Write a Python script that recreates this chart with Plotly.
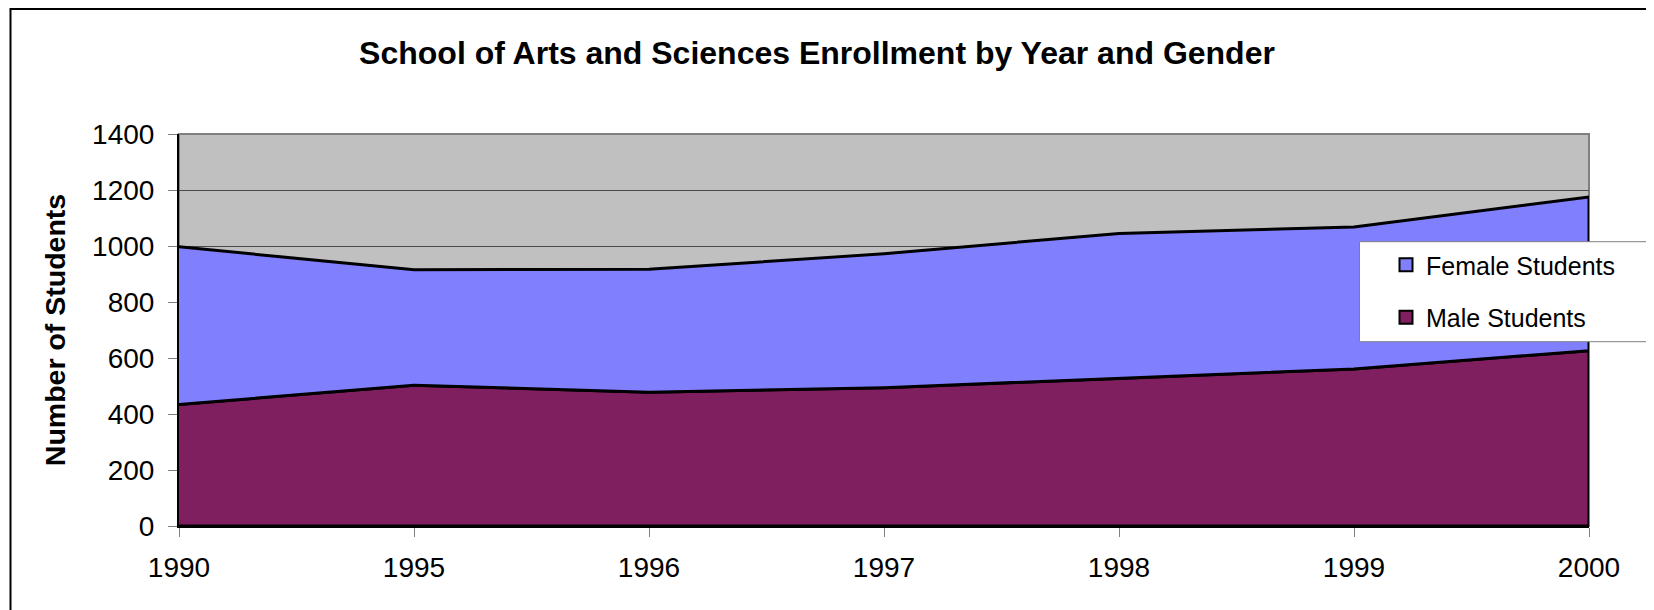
import numpy as np
import plotly.graph_objects as go

# ---- data ----
years = ['1990', '1995', '1996', '1997', '1998', '1999', '2000']
male_students = [434, 503, 478, 494, 527, 561, 626]
female_students = [563, 412, 439, 478, 518, 507, 549]
y_ticks = [0, 200, 400, 600, 800, 1000, 1200, 1400]

title_text = 'School of Arts and Sciences Enrollment by Year and Gender'
y_title = 'Number of Students'
female_name = 'Female Students'
male_name = 'Male Students'

# ---- layout geometry (figure pixel coords) ----
W, H = 1654, 610
L, R, T, B = 171, 73, 126, 92
PW, PH = W - L - R, H - T - B

def px(x):
    return (x - L) / PW

def py(y):
    return (H - B - y) / PH

FONT = 'Arial, Liberation Sans, sans-serif'
MALE_C = '#7F1F5F'
FEMALE_C = '#8080FF'

male = np.array(male_students)
total = male + np.array(female_students)
xs_poly = years + years[::-1]

fig = go.Figure()
fig.add_trace(go.Scatter(
    x=xs_poly, y=list(male) + [0] * len(years),
    fill='toself', fillcolor=MALE_C, mode='lines',
    line=dict(color='black', width=3), showlegend=False, hoverinfo='skip'))
fig.add_trace(go.Scatter(
    x=xs_poly, y=list(total) + list(male[::-1]),
    fill='toself', fillcolor=FEMALE_C, mode='lines',
    line=dict(color='black', width=3), showlegend=False, hoverinfo='skip'))

# legend entries (square swatches)
fig.add_trace(go.Scatter(x=[None], y=[None], mode='markers', name=female_name,
                         legendgroup='f',
                         marker=dict(symbol='square', size=13, color=FEMALE_C,
                                     line=dict(color='black', width=2))))
fig.add_trace(go.Scatter(x=[None], y=[None], mode='markers', name=male_name,
                         legendgroup='m',
                         marker=dict(symbol='square', size=13, color=MALE_C,
                                     line=dict(color='black', width=2))))

shapes = [
    # plot area border (gray)
    dict(type='rect', xref='paper', yref='paper', x0=0, x1=1, y0=0, y1=1,
         line=dict(color='#808080', width=2), fillcolor='rgba(0,0,0,0)', layer='below'),
    # outer chart border
    dict(type='rect', xref='paper', yref='paper', x0=px(2.5), x1=px(1720),
         y0=py(700), y1=py(1), line=dict(color='black', width=2),
         fillcolor='rgba(0,0,0,0)', layer='above'),
    # legend box
    dict(type='rect', xref='paper', yref='paper', x0=px(1351.5), x1=px(1720),
         y0=py(333.7), y1=py(233.7), line=dict(color='#808080', width=1),
         fillcolor='white', layer='above'),
]

fig.update_layout(
    width=W, height=H,
    margin=dict(l=L, r=R, t=T, b=B, autoexpand=False),
    paper_bgcolor='white', plot_bgcolor='#C0C0C0',
    font=dict(family=FONT, color='black', size=28),
    title=dict(text='<b>' + title_text + '</b>', x=809 / W, y=1 - 45 / H,
               xanchor='center', yanchor='middle',
               font=dict(family=FONT, size=32, color='black')),
    shapes=shapes,
    showlegend=True,
    legend=dict(x=px(1378), y=py(234), xanchor='left', yanchor='top',
                bgcolor='rgba(0,0,0,0)', borderwidth=0,
                font=dict(family=FONT, size=25, color='black'),
                traceorder='grouped', tracegroupgap=17, itemwidth=30),
    xaxis=dict(type='category', categoryorder='array', categoryarray=years,
               range=[0, len(years) - 1], showgrid=False, zeroline=False,
               showline=True, linecolor='black', linewidth=2,
               ticks='outside', ticklen=9, tickcolor='#808080', tickwidth=1,
               tickfont=dict(family=FONT, size=28), ticklabelstandoff=6),
    yaxis=dict(range=[0, 1400], tickvals=y_ticks, showgrid=True,
               gridcolor='#4a4a4a', gridwidth=1, zeroline=False,
               showline=True, linecolor='black', linewidth=2,
               ticks='outside', ticklen=9, tickcolor='#808080', tickwidth=1,
               tickfont=dict(family=FONT, size=28), ticklabelstandoff=8,
               title=dict(text='<b>' + y_title + '</b>', standoff=18,
                          font=dict(family=FONT, size=28.5, color='black'))),
)

fig.write_html('out.html')
